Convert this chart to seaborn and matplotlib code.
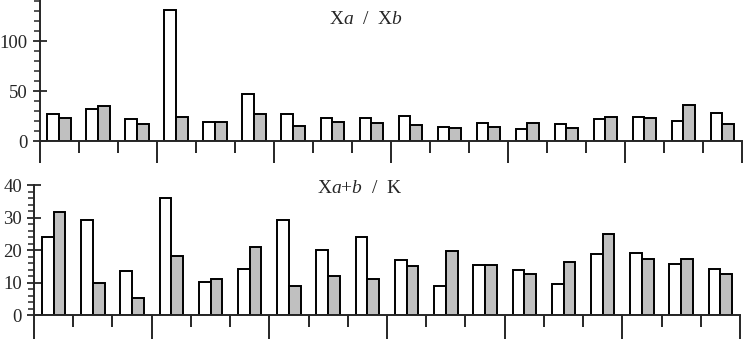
import numpy as np
import pandas as pd
import seaborn as sns
import matplotlib.pyplot as plt
from matplotlib.ticker import MultipleLocator, FixedLocator

# values, 18 groups, two bars per group
groups = list(range(1, 19))
xa_xb_white = [27, 32, 22, 131, 18.7, 47.4, 26.7, 22.7, 22.7, 24.7, 13.7, 17.7, 11.7, 16.7, 22, 23.7, 20, 28]
xa_xb_gray = [23.4, 35, 17.4, 23.7, 19, 26.7, 15.4, 18.7, 17.7, 16.4, 12.7, 13.7, 17.7, 12.7, 23.7, 23.4, 36.4, 17.4]
xab_k_white = [24.2, 29.2, 13.5, 36.1, 10.1, 14.1, 29.2, 20.1, 24.0, 16.9, 9.1, 15.5, 13.8, 9.6, 18.9, 19.3, 15.9, 14.4]
xab_k_gray = [31.9, 9.9, 5.3, 18.4, 11.1, 21.0, 9.0, 12.2, 11.1, 15.3, 19.7, 15.6, 12.8, 16.3, 25.0, 17.2, 17.2, 12.6]

sns.set_style("ticks")
plt.rcParams['font.family'] = ['Liberation Serif', 'DejaVu Serif']
plt.rcParams['mathtext.fontset'] = 'custom'
plt.rcParams['mathtext.rm'] = 'Liberation Serif'
plt.rcParams['mathtext.it'] = 'Liberation Serif:italic'

fig = plt.figure(figsize=(7.43, 3.39), dpi=100)
ax1 = fig.add_axes([39.5 / 743, 198 / 339, 702.5 / 743, 141 / 339])
ax2 = fig.add_axes([34 / 743, 23.7 / 339, 706 / 743, 130 / 339])

pal = ['white', '#c0c0c0']


def draw(ax, white, gray, ymax, major, minor, long_len, short_len):
    df = pd.DataFrame({
        'group': groups * 2,
        'value': white + gray,
        'series': ['a'] * len(groups) + ['b'] * len(groups),
    })
    sns.barplot(data=df, x='group', y='value', hue='series', palette=pal,
                saturation=1, edgecolor='black', linewidth=1.4, width=0.6,
                legend=False, ax=ax)
    ax.set_xlim(-0.5, 17.5)
    ax.set_ylim(0, ymax)
    ax.set_xlabel('')
    ax.set_ylabel('')
    sns.despine(ax=ax)
    for s in ['left', 'bottom']:
        ax.spines[s].set_linewidth(1.4)

    bounds = np.arange(19) - 0.5
    ax.xaxis.set_major_locator(FixedLocator(bounds[::3]))
    ax.xaxis.set_minor_locator(FixedLocator([b for i, b in enumerate(bounds) if i % 3]))
    ax.set_xticklabels([])
    ax.tick_params(axis='x', which='major', direction='out', length=long_len, width=1.4)
    ax.tick_params(axis='x', which='minor', direction='out', length=short_len, width=1.4)

    ax.yaxis.set_major_locator(MultipleLocator(major))
    ax.yaxis.set_minor_locator(MultipleLocator(minor))
    ax.tick_params(axis='y', which='major', direction='inout', length=9.4, width=1.3,
                   labelsize=13.5, pad=4)
    ax.tick_params(axis='y', which='minor', direction='out', length=4.3, width=1.1)


draw(ax1, xa_xb_white, xa_xb_gray, 141, 50, 10, 15.8, 8.3)
draw(ax2, xab_k_white, xab_k_gray, 40, 10, 2, 17.3, 8.6)

fig.text(366 / 743, 1 - 20 / 339, r'X$\mathit{a}$  /  X$\mathit{b}$', ha='center', va='center', fontsize=14)
fig.text(360 / 743, 1 - 188 / 339, r'X$\mathit{a}$+$\mathit{b}$  /  K', ha='center', va='center', fontsize=14)

fig.savefig('out.png', dpi=100)
